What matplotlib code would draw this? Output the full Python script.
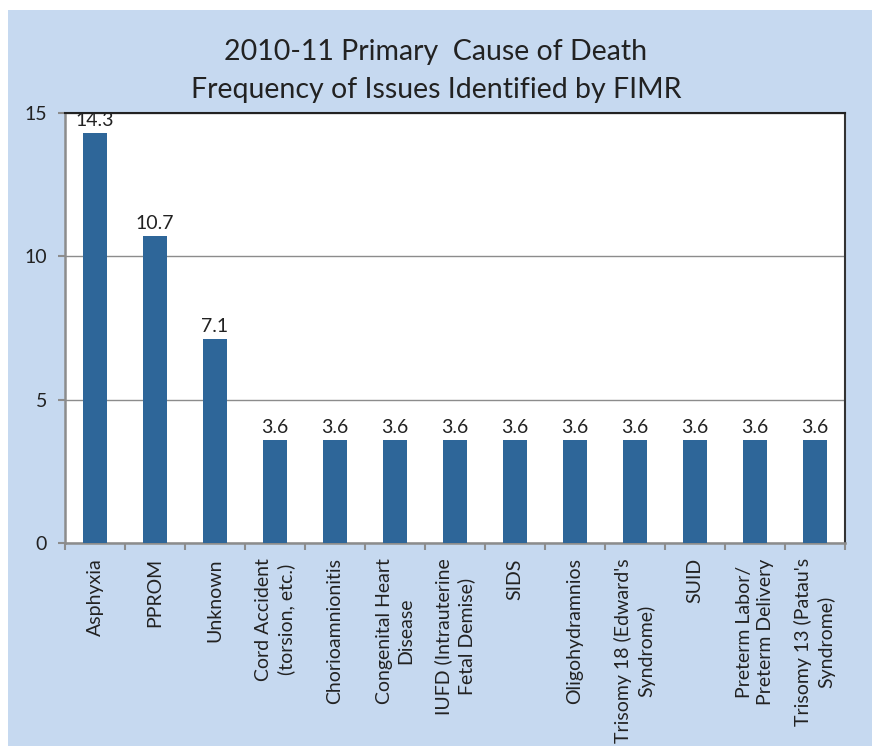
import matplotlib.pyplot as plt
from matplotlib.patches import Rectangle

plt.rcParams['font.family'] = ['Lato', 'DejaVu Sans']

# Data
categories = [
    'Asphyxia', 'PPROM', 'Unknown', 'Cord Accident\n(torsion, etc.)',
    'Chorioamnionitis', 'Congenital Heart\nDisease',
    'IUFD (Intrauterine\nFetal Demise)', 'SIDS', 'Oligohydramnios',
    "Trisomy 18 (Edward's\nSyndrome)", 'SUID',
    'Preterm Labor/\nPreterm Delivery', "Trisomy 13 (Patau's\nSyndrome)",
]
values = [14.3, 10.7, 7.1, 3.6, 3.6, 3.6, 3.6, 3.6, 3.6, 3.6, 3.6, 3.6, 3.6]
yticks = [0, 5, 10, 15]

bg = '#C6D9F0'
bar_color = '#2E6699'

fig = plt.figure(figsize=(8.72, 7.46), dpi=100, facecolor='white')
# light blue chart area
fig.patches.append(Rectangle((8 / 872, 0), 1, 1 - 10 / 746,
                             transform=fig.transFigure, facecolor=bg,
                             edgecolor='none', zorder=-1))

ax = fig.add_axes([65 / 872, 1 - 543 / 746, 780 / 872, 430 / 746])
ax.set_facecolor('white')

x = list(range(len(categories)))
bars = ax.bar(x, values, width=0.4, color=bar_color, zorder=3)

for xi, v in zip(x, values):
    ax.annotate(f'{v:.1f}', (xi, v), xytext=(0, 3), textcoords='offset points',
                ha='center', va='bottom', fontsize=14, color='#222222')

ax.set_xlim(-0.5, len(categories) - 0.5)
ax.set_ylim(0, 15)
ax.set_yticks(yticks)
ax.set_yticklabels([str(t) for t in yticks], fontsize=14, color='#222222')
ax.yaxis.grid(True, color='#8C8C8C', lw=1, zorder=0)

# category labels centered on bars, tick marks at category boundaries
ax.set_xticks(x)
ax.set_xticklabels(categories, rotation=90, ha='center', va='top',
                   multialignment='center', fontsize=14, color='#222222',
                   linespacing=1.35)
ax.tick_params(axis='x', length=0, pad=11)
ax.set_xticks([i - 0.5 for i in range(len(categories) + 1)], minor=True)
ax.tick_params(axis='x', which='minor', length=5, width=1.5, color='#8C8C8C')
ax.tick_params(axis='y', length=5, width=1.5, color='#8C8C8C', pad=8)

ax.spines['left'].set_color('#8C8C8C')
ax.spines['left'].set_linewidth(1.8)
ax.spines['bottom'].set_color('#8C8C8C')
ax.spines['bottom'].set_linewidth(1.8)
ax.spines['top'].set_color('#222222')
ax.spines['top'].set_linewidth(1.5)
ax.spines['right'].set_color('#333333')
ax.spines['right'].set_linewidth(1.5)

fig.text(0.5, 1 - 52 / 746, '2010-11 Primary  Cause of Death', ha='center',
         va='center', fontsize=20.5, color='#222222')
fig.text(0.5, 1 - 90 / 746, 'Frequency of Issues Identified by FIMR', ha='center',
         va='center', fontsize=20.5, color='#222222')

fig.savefig('out.png', dpi=100, facecolor=fig.get_facecolor())
